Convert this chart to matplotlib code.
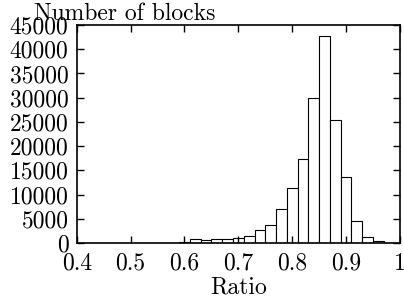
import matplotlib
matplotlib.use("Agg")
import matplotlib.pyplot as plt

# histogram bin centres (width 0.02) and counts
centres = [0.58, 0.60, 0.62, 0.64, 0.66, 0.68, 0.70, 0.72, 0.74, 0.76,
           0.78, 0.80, 0.82, 0.84, 0.86, 0.88, 0.90, 0.92, 0.94, 0.96, 0.98]
counts = [100, 200, 800, 600, 800, 800, 1100, 1450, 2750, 3700,
          7050, 11350, 17400, 30000, 42800, 25450, 13600, 4650, 1250, 400, 60]
xticks = [0.4, 0.5, 0.6, 0.7, 0.8, 0.9, 1.0]
xticklabels = ["0.4", "0.5", "0.6", "0.7", "0.8", "0.9", "1"]
yticks = list(range(0, 45001, 5000))

plt.rcParams['font.family'] = 'serif'
plt.rcParams['font.serif'] = ['cmr10']
plt.rcParams['axes.formatter.use_mathtext'] = True
plt.rcParams['font.size'] = 17

fig = plt.figure(figsize=(4.04, 3.05), dpi=100)
ax = fig.add_axes([0.19, 0.203, 0.8, 0.715])

ax.bar(centres, counts, width=0.02, color='white', edgecolor='black', linewidth=0.8)

ax.set_xlim(0.4, 1.0)
ax.set_ylim(0, 45000)
ax.set_xticks(xticks)
ax.set_xticklabels(xticklabels)
ax.set_yticks(yticks)
ax.set_yticklabels([str(v) for v in yticks])
ax.tick_params(direction='in', top=True, right=True, length=5, width=1)
ax.tick_params(axis='y', pad=6)
ax.tick_params(axis='x', pad=7)
for s in ax.spines.values():
    s.set_linewidth(1.2)

ax.set_xlabel('Ratio', labelpad=1)
ax.text(0.149, 1.023, 'Number of blocks', transform=ax.transAxes,
        ha='center', va='baseline')

fig.savefig('out.png', dpi=100)
